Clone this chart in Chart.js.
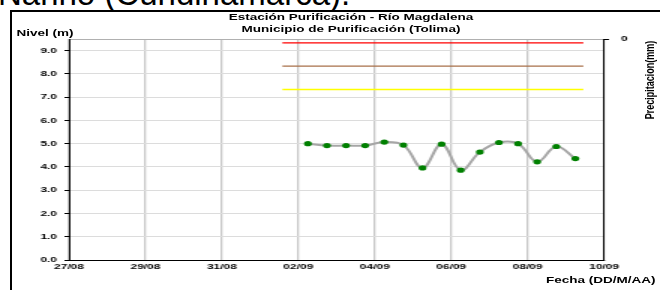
<!DOCTYPE html>
<html>
<head>
<meta charset="utf-8">
<script src="https://cdn.jsdelivr.net/npm/chart.js@4"></script>
<style>
  body { margin: 0; background: #fff; font-family: Arial, "Liberation Sans", sans-serif; }
  #page { position: relative; width: 660px; height: 290px; overflow: hidden; }
  #page div { position: absolute; white-space: nowrap; color: #000; }
  /* the chart picture is stretched sideways, like the original export */
  #chart { left: 0; top: 0; width: 440px; height: 290px; transform: scaleX(1.5); transform-origin: 0 0; }
  canvas { position: absolute; left: 0; top: 0; }
</style>
</head>
<body>
<div id="page">
  <div style="left:-2px; top:-23px; font-size:33px; line-height:33px;">Nariño (Cundinamarca).</div>
  <div style="left:10px; top:10px; width:700px; height:300px; border:2px solid #000;"></div>
  <div id="chart">
    <div style="left:0; width:468px; top:12px; text-align:center; font-weight:bold; font-size:9px; line-height:11.5px;">Estación Purificación - Río Magdalena<br>Municipio de Purificación (Tolima)</div>
    <div style="left:11px; top:28px; font-weight:bold; font-size:9px;">Nivel (m)</div>
    <div style="right:3px; top:275px; font-weight:bold; font-size:9px;">Fecha (DD/M/AA)</div>
    <div style="left:433px; top:80px; font-weight:bold; font-size:9px; transform:translate(-50%,-50%) rotate(-90deg);">Precipitacion(mm)</div>
    <canvas id="c" width="440" height="290"></canvas>
  </div>
</div>
<script>
// Nivel del río, lecturas cada 12 horas
const fechas = ['02/09 06:00', '02/09 18:00', '03/09 06:00', '03/09 18:00', '04/09 06:00',
                '04/09 18:00', '05/09 06:00', '05/09 18:00', '06/09 06:00', '06/09 18:00',
                '07/09 06:00', '07/09 18:00', '08/09 06:00', '08/09 18:00', '09/09 06:00'];
const nivel = [5.00, 4.92, 4.92, 4.92, 5.07, 4.94, 3.96, 4.98, 3.86, 4.64, 5.05, 5.00, 4.22, 4.88, 4.36];

// Umbrales de alerta (roja, naranja, amarilla)
const umbrales = [9.33, 8.33, 7.33];
const umbralColores = ['#ff0000', '#a8704a', '#ffff00'];
const umbralInicio = '01/09 14:00';
const umbralFin = '09/09 11:00';

const etiquetasX = ['27/08', '29/08', '31/08', '02/09', '04/09', '06/09', '08/09', '10/09'];
const ticksY = [0, 1, 2, 3, 4, 5, 6, 7, 8, 9, 9.5];
const ORIGEN = '27/08 00:00';

// 'DD/MM HH:MM' -> días desde el origen
function aMs(s) {
    const m = /(\d+)\/(\d+)(?: (\d+):(\d+))?/.exec(s);
    return Date.UTC(2021, +m[2] - 1, +m[1], +(m[3] || 0), +(m[4] || 0));
}
function dias(s) { return (aMs(s) - aMs(ORIGEN)) / 86400000; }

const fontTick = { family: 'Arial', size: 8, weight: 'bold' };

const datasets = umbrales.map((u, i) => ({
    data: [{ x: dias(umbralInicio), y: u }, { x: dias(umbralFin), y: u }],
    borderColor: umbralColores[i],
    borderWidth: 1.3,
    pointRadius: 0
}));
datasets.push({
    data: fechas.map((f, i) => ({ x: dias(f), y: nivel[i] })),
    borderColor: '#a6a6a6',
    borderWidth: 2,
    tension: 0.4,
    pointRadius: 2.6,
    pointBackgroundColor: '#008000',
    pointBorderColor: '#008000',
    pointBorderWidth: 0
});

new Chart(document.getElementById('c'), {
    type: 'line',
    data: { datasets },
    options: {
        responsive: false,
        animation: false,
        layout: { padding: { top: 39, left: 0, right: 0, bottom: 0 } },
        plugins: { legend: { display: false }, tooltip: { enabled: false } },
        scales: {
            x: {
                type: 'linear',
                min: 0, max: 14,
                afterBuildTicks: (s) => { s.ticks = etiquetasX.map(e => ({ value: dias(e) })); },
                afterFit: (s) => { s.height = 30; },
                ticks: { callback: (v, i) => etiquetasX[i], color: '#000', font: fontTick, padding: 2, maxRotation: 0 },
                grid: { color: '#c8c8c8', lineWidth: 1.3, drawTicks: false },
                border: { color: '#000', width: 1 }
            },
            y: {
                min: 0, max: 9.5,
                afterBuildTicks: (s) => { s.ticks = ticksY.map(v => ({ value: v })); },
                afterFit: (s) => { s.width = 46; },
                ticks: { callback: (v) => (v % 1 === 0 ? v.toFixed(1) : ''), color: '#000', font: fontTick, padding: 5 },
                grid: {
                    color: (c) => (c.tick && c.tick.value === 9.5 ? '#b0b0b0' : '#dcdcdc'),
                    tickColor: (c) => (c.tick && c.tick.value === 9.5 ? 'rgba(0,0,0,0)' : '#000'),
                    tickLength: 3, lineWidth: 1
                },
                border: { color: '#000', width: 1 }
            },
            y2: {
                position: 'right',
                min: 0, max: 1, reverse: true,
                afterBuildTicks: (s) => { s.ticks = [{ value: 0 }]; },
                afterFit: (s) => { s.width = 37.3; },
                ticks: { callback: () => '0', color: '#000', font: fontTick, padding: 8 },
                grid: { drawOnChartArea: false, tickColor: '#000', tickLength: 3.3 },
                border: { color: '#000', width: 1 }
            }
        }
    }
});
</script>
</body>
</html>
